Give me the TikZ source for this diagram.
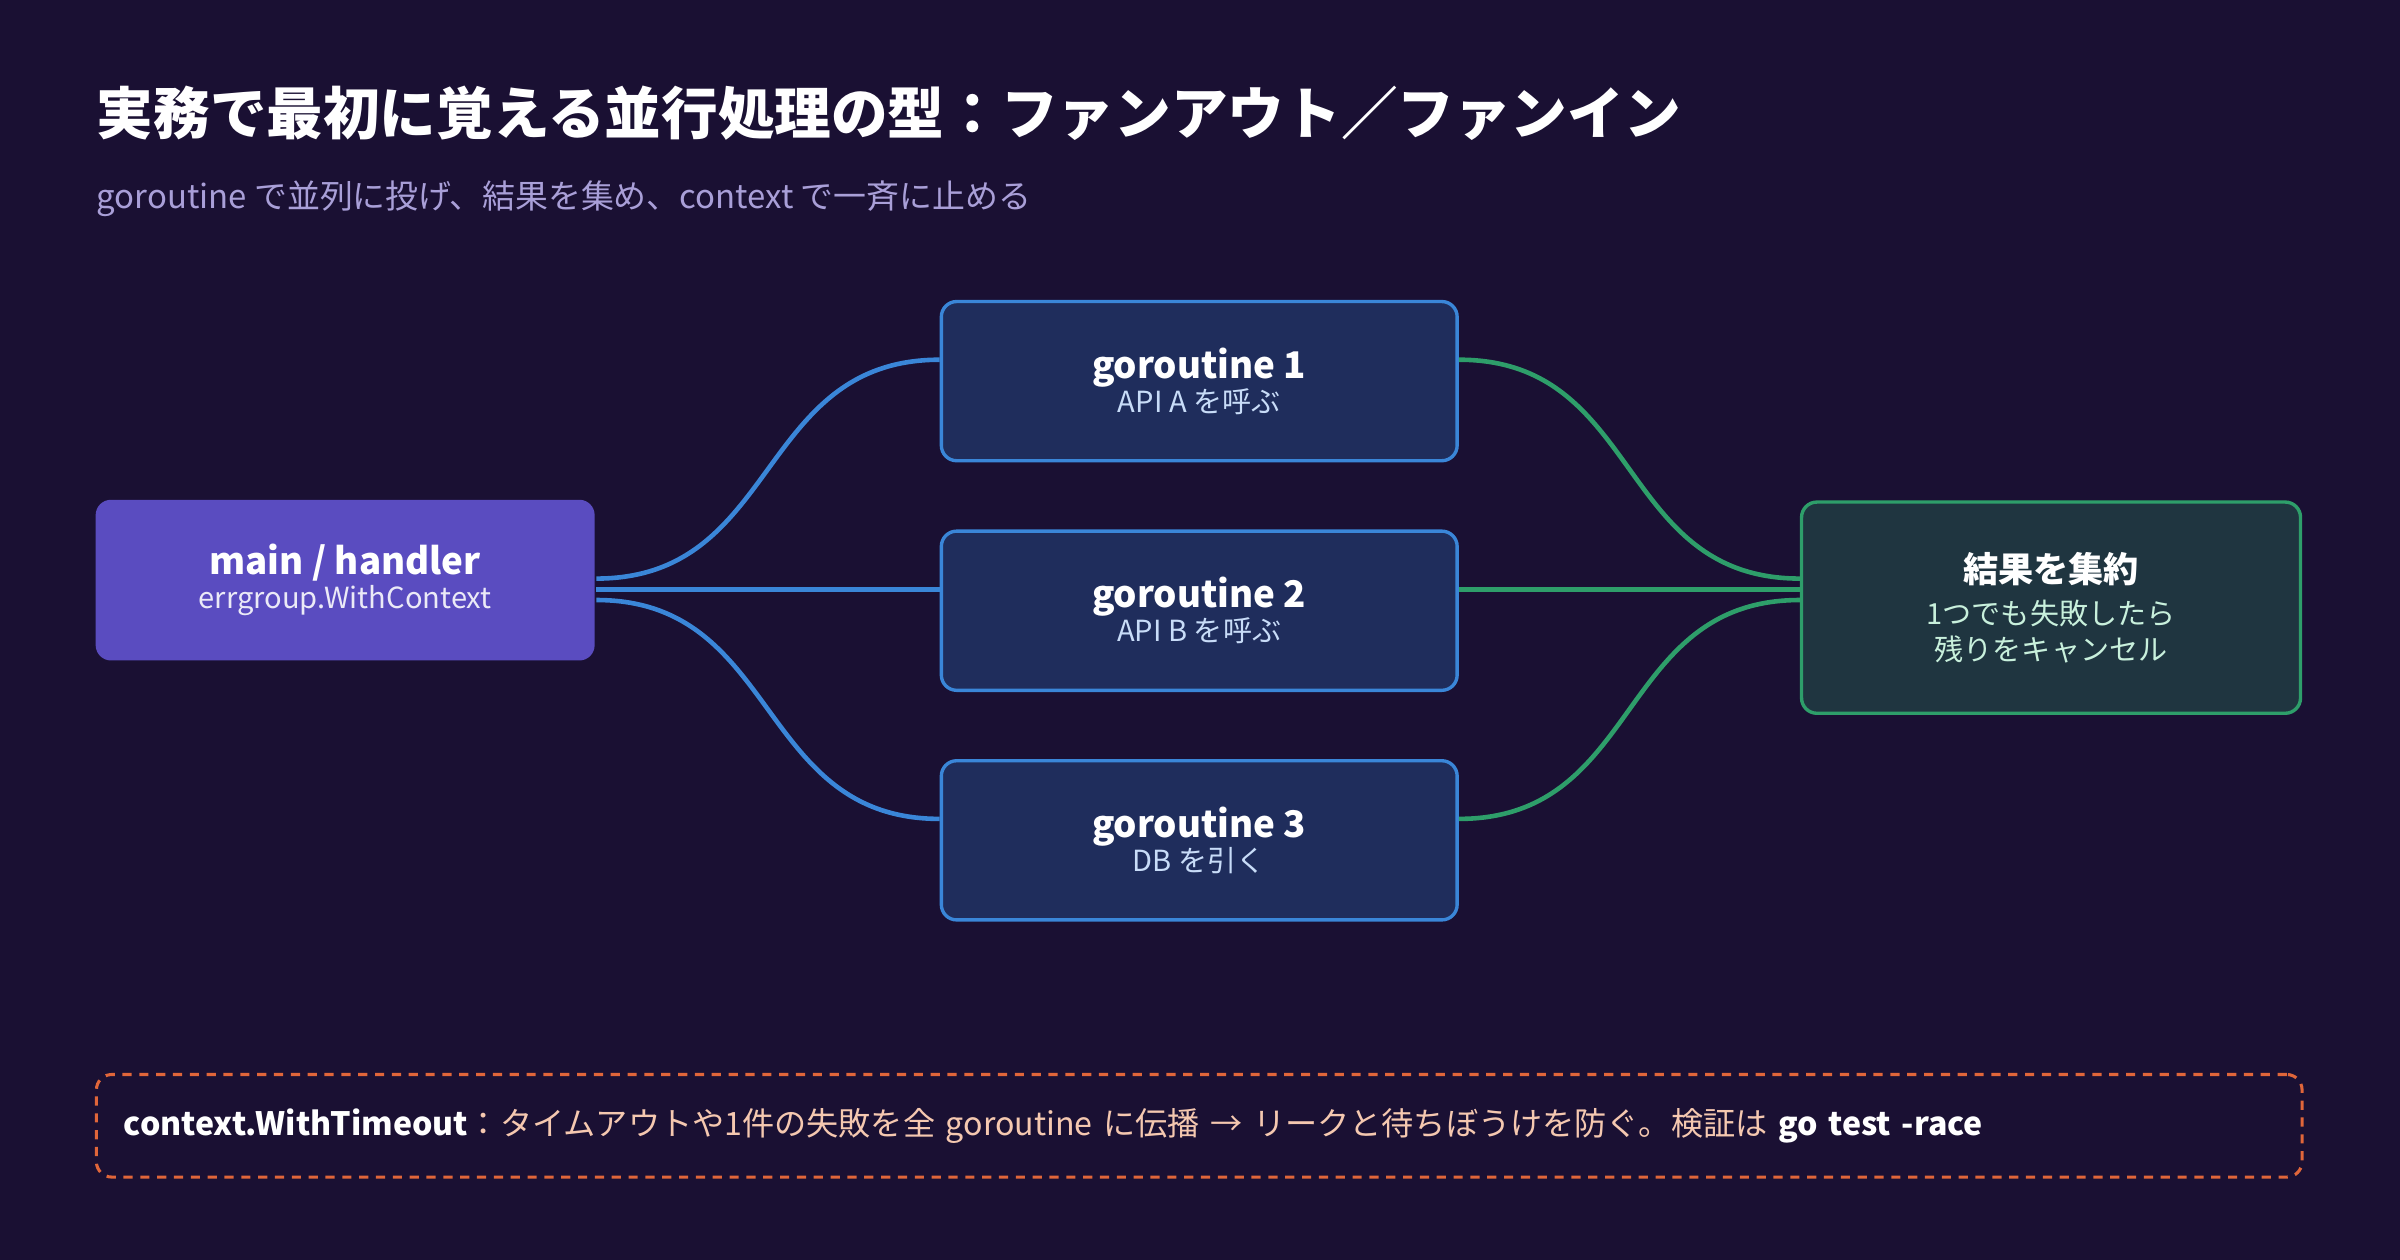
\documentclass[tikz,border=0pt]{standalone}
\usepackage{fontspec}
\setmainfont{Noto Sans CJK JP}
\usetikzlibrary{positioning}
\definecolor{bgcol}{HTML}{1A1033}
\definecolor{subcol}{HTML}{A99FD8}
\definecolor{mainfill}{HTML}{5A4CC0}
\definecolor{gofill}{HTML}{1F2D5C}
\definecolor{goline}{HTML}{3A86D8}
\definecolor{gotext}{HTML}{C8DCF8}
\definecolor{resfill}{HTML}{1F3540}
\definecolor{resline}{HTML}{2E9E6A}
\definecolor{restext}{HTML}{C8F0DC}
\definecolor{warnline}{HTML}{E0663A}
\definecolor{warntext}{HTML}{F5C8B0}
\newcommand{\headtxt}[2][24]{{\fontsize{#1}{28}\selectfont\bfseries\color{white}#2}}
\newcommand{\subtxt}[2]{{\fontsize{19}{22}\selectfont\color{#1}#2}}
\tikzset{
  box/.style={rectangle, rounded corners=10pt, align=center, line width=2.2pt},
  gobox/.style={box, fill=gofill, draw=goline, minimum width=337pt, minimum height=104pt},
  fanout/.style={goline, line width=3pt},
  fanin/.style={resline, line width=3pt},
}
\begin{document}
\begin{tikzpicture}[x=1pt,y=-1pt]
\fill[bgcol] (0,0) rectangle (1568,823);

% title
\node[anchor=base west, inner sep=0, text=white, font=\fontsize{37}{40}\selectfont\bfseries] (title) at (63,88) {実務で最初に覚える並行処理の型：ファンアウト／ファンイン};
\node[anchor=base west, inner sep=0, text=subcol, font=\fontsize{21.5}{24}\selectfont] (subtitle) at (63,136) {goroutine で並列に投げ、結果を集め、context で一斉に止める};

% nodes
\node[box, fill=mainfill, minimum width=326pt, minimum height=105pt] (main) at (225.5,379)
  {\headtxt{main / handler}\\[2pt]\subtxt{white!88!mainfill}{errgroup.WithContext}};
\node[gobox] (g1) at (783.5,249) {\headtxt{goroutine 1}\\\subtxt{gotext}{API A を呼ぶ}};
\node[gobox] (g2) at (783.5,399) {\headtxt{goroutine 2}\\\subtxt{gotext}{API B を呼ぶ}};
\node[gobox] (g3) at (783.5,549) {\headtxt{goroutine 3}\\\subtxt{gotext}{DB を引く}};
\node[box, fill=resfill, draw=resline, minimum width=326pt, minimum height=138pt] (res) at (1340,397)
  {\headtxt[23]{結果を集約}\\[8pt]\subtxt{restext}{1つでも失敗したら}\\[5pt]\subtxt{restext}{残りをキャンセル}};

% connectors
\draw[fanout] ([yshift=1pt]main.east) .. controls +(120,0) and +(-120,0) .. ([yshift=14pt]g1.west);
\draw[fanout] ([yshift=-6pt]main.east) -- ([yshift=14pt]g2.west);
\draw[fanout] ([yshift=-13pt]main.east) .. controls +(120,0) and +(-120,0) .. ([yshift=14pt]g3.west);
\draw[fanin] ([yshift=14pt]g1.east) .. controls +(120,0) and +(-120,0) .. ([yshift=19pt]res.west);
\draw[fanin] ([yshift=14pt]g2.east) -- ([yshift=12pt]res.west);
\draw[fanin] ([yshift=14pt]g3.east) .. controls +(120,0) and +(-120,0) .. ([yshift=5pt]res.west);

% note
\node[box, draw=warnline, line width=2pt, dash pattern=on 6pt off 5pt, minimum width=1441pt, minimum height=67pt, text width=1405pt, align=left, font=\fontsize{21}{24}\selectfont] (note) at (783.5,735.5)
  {{\bfseries\color{white}context.WithTimeout}\textcolor{warntext}{：タイムアウトや1件の失敗を全 goroutine に伝播 → リークと待ちぼうけを防ぐ。検証は }{\bfseries\color{white}go test -race}};
\end{tikzpicture}
\end{document}
